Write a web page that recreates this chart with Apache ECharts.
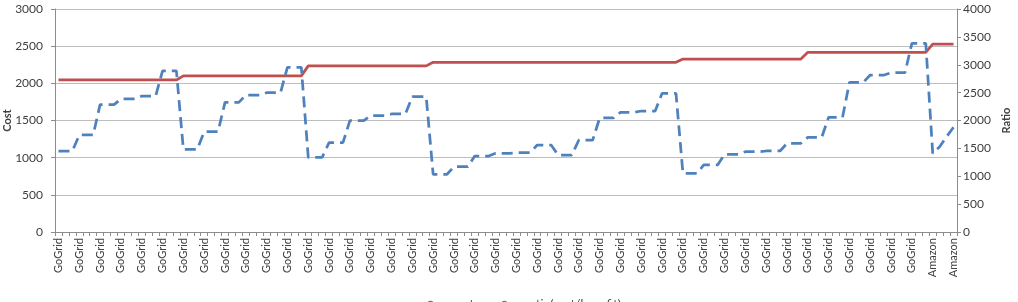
<!DOCTYPE html>
<html>
<head>
<meta charset="utf-8">
<script src="https://cdn.jsdelivr.net/npm/echarts@6/dist/echarts.min.js"></script>
<style>
html,body{margin:0;padding:0;background:#fff;}
#chart{width:1018px;height:302px;}
</style>
</head>
<body>
<div id="chart"></div>
<script>
const categories = [
'GoGrid','GoGrid','GoGrid','GoGrid','GoGrid','GoGrid','GoGrid','GoGrid','GoGrid','GoGrid',
'GoGrid','GoGrid','GoGrid','GoGrid','GoGrid','GoGrid','GoGrid','GoGrid','GoGrid','GoGrid',
'GoGrid','GoGrid','GoGrid','GoGrid','GoGrid','GoGrid','GoGrid','GoGrid','GoGrid','GoGrid',
'GoGrid','GoGrid','GoGrid','GoGrid','GoGrid','GoGrid','GoGrid','GoGrid','GoGrid','GoGrid',
'GoGrid','GoGrid','GoGrid','GoGrid','GoGrid','GoGrid','GoGrid','GoGrid','GoGrid','GoGrid',
'GoGrid','GoGrid','GoGrid','GoGrid','GoGrid','GoGrid','GoGrid','GoGrid','GoGrid','GoGrid',
'GoGrid','GoGrid','GoGrid','GoGrid','GoGrid','GoGrid','GoGrid','GoGrid','GoGrid','GoGrid',
'GoGrid','GoGrid','GoGrid','GoGrid','GoGrid','GoGrid','GoGrid','GoGrid','GoGrid','GoGrid',
'GoGrid','GoGrid','GoGrid','GoGrid','GoGrid','GoGrid','GoGrid','GoGrid','GoGrid','GoGrid',
'GoGrid','GoGrid','GoGrid','GoGrid','GoGrid','GoGrid','GoGrid','GoGrid','GoGrid','GoGrid',
'GoGrid','GoGrid','GoGrid','GoGrid','GoGrid','GoGrid','GoGrid','GoGrid','GoGrid','GoGrid',
'GoGrid','GoGrid','GoGrid','GoGrid','GoGrid','GoGrid','GoGrid','GoGrid','GoGrid','GoGrid',
'GoGrid','GoGrid','GoGrid','GoGrid','GoGrid','GoGrid','Amazon','Amazon','Amazon','Amazon'
];

const costValues = [
2045,2045,2045,2045,2045,2045,2045,2045,2045,2045,2045,2045,2045,2045,2045,2045,2045,2045,
2100,2100,2100,2100,2100,2100,2100,2100,2100,2100,2100,2100,2100,2100,2100,2100,2100,2100,
2235,2235,2235,2235,2235,2235,2235,2235,2235,2235,2235,2235,2235,2235,2235,2235,2235,2235,
2283,2283,2283,2283,2283,2283,2283,2283,2283,2283,2283,2283,2283,2283,2283,2283,2283,2283,
2283,2283,2283,2283,2283,2283,2283,2283,2283,2283,2283,2283,2283,2283,2283,2283,2283,2283,
2327,2327,2327,2327,2327,2327,2327,2327,2327,2327,2327,2327,2327,2327,2327,2327,2327,2327,
2418,2418,2418,2418,2418,2418,2418,2418,2418,2418,2418,2418,2418,2418,2418,2418,2418,2418,
2529,2529,2529,2529
];

const ratioValues = [
1450,1450,1450, 1740,1740,1740, 2285,2285,2285, 2386,2386,2386, 2437,2437,2437, 2890,2890,2890,
1480,1480,1480, 1800,1800,1800, 2326,2326,2326, 2457,2457,2457, 2499,2499,2499, 2954,2954,2954,
1340,1340,1340, 1602,1602,1602, 1997,1997,1997, 2087,2087,2087, 2117,2117,2117, 2427,2427,2427,
1035,1035,1035, 1171,1171,1171, 1363,1363,1363, 1411,1411,1411, 1423,1423,1423, 1560,1560,1560,
1381,1381,1381, 1650,1650,1650, 2045,2045,2045, 2147,2147,2147, 2170,2170,2170, 2488,2488,2488,
1053,1053,1053, 1202,1202,1202, 1393,1393,1393, 1441,1441,1441, 1453,1453,1453, 1591,1591,1591,
1698,1698,1698, 2057,2057,2057, 2685,2685,2685, 2816,2816,2816, 2858,2858,2858, 3384,3384,3384,
1410,1530,1710,1880
];

const costTicks = [0, 500, 1000, 1500, 2000, 2500, 3000];
const ratioTicks = [0, 500, 1000, 1500, 2000, 2500, 3000, 3500, 4000];

const FONT = 'Lato, "Open Sans", sans-serif';
const TXT = '#404040';
const AX = '#8c8c8c';

const chart = echarts.init(document.getElementById('chart'), null, {renderer: 'canvas'});
chart.setOption({
  animation: false,
  backgroundColor: '#fff',
  textStyle: {fontFamily: FONT},
  grid: {left: 55, right: 61, top: 9, bottom: 70, containLabel: false, outerBoundsMode: 'none'},
  legend: {
    left: 408, top: 293,
    itemWidth: 33, itemHeight: 8, itemGap: 13,
    textStyle: {fontFamily: FONT, fontSize: 12, color: TXT},
    data: ['cost', 'ratio(cost/benefit)']
  },
  xAxis: {
    type: 'category',
    data: categories,
    boundaryGap: true,
    axisLine: {lineStyle: {color: AX, width: 1}},
    axisTick: {show: true, interval: 0, length: 4, lineStyle: {color: AX}},
    axisLabel: {interval: 2, rotate: 90, fontSize: 11, color: TXT, fontFamily: FONT, margin: 6},
    splitLine: {show: false}
  },
  yAxis: [
    {
      type: 'value', min: costTicks[0], max: costTicks[costTicks.length - 1], interval: 500,
      name: 'Cost', nameLocation: 'middle', nameRotate: 90, nameGap: 42, nameMoveOverlap: false,
      nameTextStyle: {fontFamily: FONT, fontSize: 11, fontWeight: 'bold', color: TXT},
      axisLine: {show: true, lineStyle: {color: AX}},
      axisTick: {show: true, length: 4, lineStyle: {color: AX}},
      axisLabel: {fontSize: 12, color: TXT, fontFamily: FONT, margin: 12, formatter: v => String(v)},
      splitLine: {show: true, lineStyle: {color: '#bdbdbd', width: 1}}
    },
    {
      type: 'value', min: ratioTicks[0], max: ratioTicks[ratioTicks.length - 1], interval: 500,
      position: 'right',
      name: 'Ratio', nameLocation: 'middle', nameRotate: 90, nameGap: 44, nameMoveOverlap: false,
      nameTextStyle: {fontFamily: FONT, fontSize: 11, fontWeight: 'bold', color: TXT},
      axisLine: {show: true, lineStyle: {color: AX}},
      axisTick: {show: true, length: 4, lineStyle: {color: AX}},
      axisLabel: {fontSize: 12, color: TXT, fontFamily: FONT, margin: 6, formatter: v => String(v)},
      splitLine: {show: false}
    }
  ],
  series: [
    {
      name: 'cost', type: 'line', yAxisIndex: 0, data: costValues,
      symbol: 'none', color: '#C0504D',
      lineStyle: {color: '#C0504D', width: 2.75}
    },
    {
      name: 'ratio(cost/benefit)', type: 'line', yAxisIndex: 1, data: ratioValues,
      symbol: 'none', color: '#4F81BD',
      lineStyle: {color: '#4F81BD', width: 2.75, type: [11, 6]}
    }
  ]
});
</script>
</body>
</html>
